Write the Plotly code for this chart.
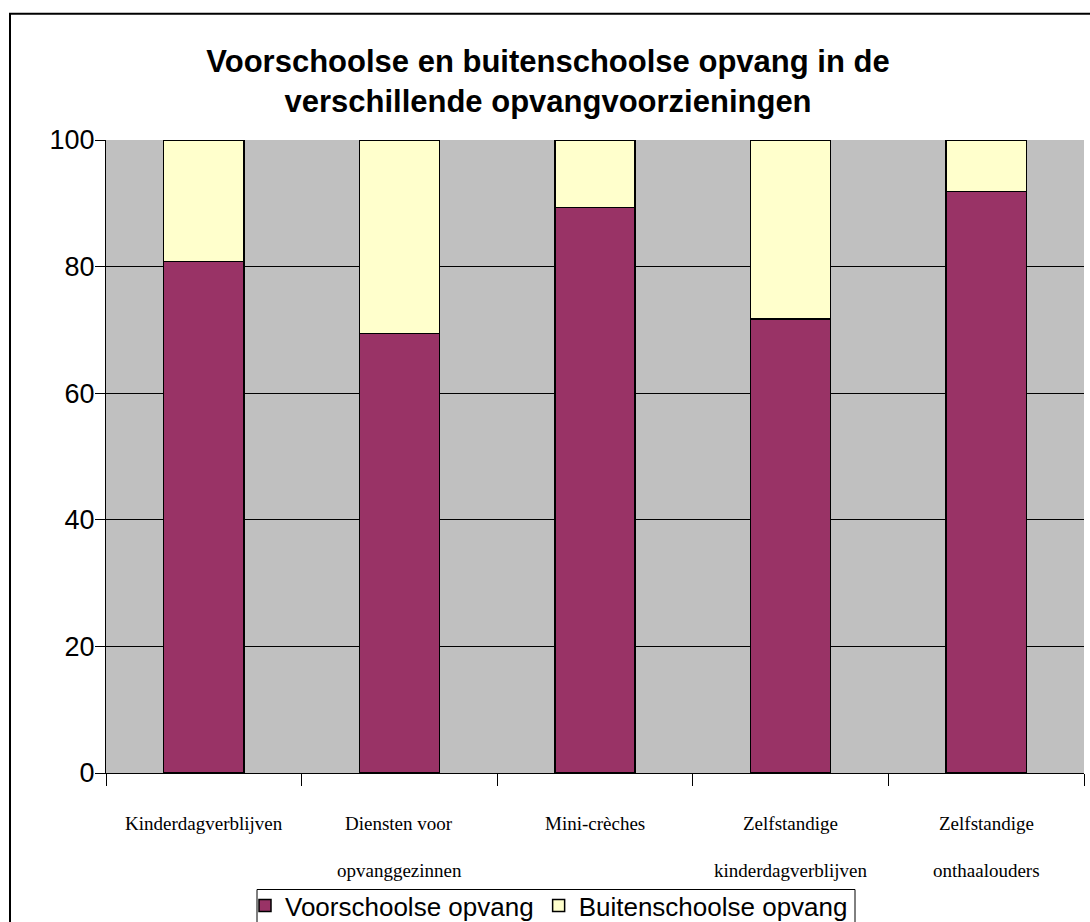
import plotly.graph_objects as go

categories = ["Kinderdagverblijven", "Diensten voor opvanggezinnen", "Mini-crèches",
              "Zelfstandige kinderdagverblijven", "Zelfstandige onthaalouders"]
label_line1 = ["Kinderdagverblijven", "Diensten voor", "Mini-crèches", "Zelfstandige", "Zelfstandige"]
label_line2 = ["", "opvanggezinnen", "", "kinderdagverblijven", "onthaalouders"]
voorschoolse = [80.8, 69.4, 89.3, 71.7, 91.9]
buitenschoolse = [100 - v for v in voorschoolse]
series_names = ["Voorschoolse opvang", "Buitenschoolse opvang"]
y_ticks = [0, 20, 40, 60, 80, 100]

W, H = 1090, 922
L, R, T, B = 106, 1084, 140, 773

fig = go.Figure()
fig.add_trace(go.Bar(x=categories, y=voorschoolse, name=series_names[0],
                     marker=dict(color="#993366", line=dict(color="black", width=1.5)),
                     width=0.41))
fig.add_trace(go.Bar(x=categories, y=buitenschoolse, name=series_names[1],
                     marker=dict(color="#FFFFCC", line=dict(color="black", width=1.5)),
                     width=0.41))

def px_x(p):
    return (p - L) / (R - L)

def px_y(p):
    return (B - p) / (B - T)

serif = "Liberation Serif, Times New Roman"
annotations = []
for c, l1, l2 in zip(categories, label_line1, label_line2):
    annotations.append(dict(x=c, xref="x", y=px_y(823), yref="paper", text=l1,
                            showarrow=False, yanchor="middle",
                            font=dict(family=serif, size=19, color="black")))
    if l2:
        annotations.append(dict(x=c, xref="x", y=px_y(870), yref="paper", text=l2,
                                showarrow=False, yanchor="middle",
                                font=dict(family=serif, size=19, color="black")))

fig.update_layout(
    width=W, height=H,
    barmode="stack",
    paper_bgcolor="white",
    plot_bgcolor="#C0C0C0",
    margin=dict(l=L, r=W - R, t=T, b=H - B, pad=0, autoexpand=False),
    title=dict(text="Voorschoolse en buitenschoolse opvang in de<br>verschillende opvangvoorzieningen",
               x=548 / W, xanchor="center", xref="container",
               y=1 - 72 / H, yanchor="top", yref="container",
               font=dict(family="Liberation Sans, Arial", size=31, color="black", weight="bold")),
    showlegend=True,
    legend=dict(orientation="h", x=px_x(245), xanchor="left", y=px_y(882), yanchor="top",
                bgcolor="rgba(0,0,0,0)", borderwidth=0,
                font=dict(family="Liberation Sans, Arial", size=26, color="black"),
                itemclick=False, tracegroupgap=0, traceorder="normal"),
    annotations=annotations,
    shapes=[
        dict(type="rect", xref="paper", yref="paper",
             x0=px_x(10), x1=px_x(1110), y0=px_y(960), y1=px_y(13.7),
             line=dict(color="black", width=2), fillcolor="rgba(0,0,0,0)", layer="above"),
        dict(type="rect", xref="paper", yref="paper",
             x0=px_x(257), x1=px_x(855), y0=px_y(940), y1=px_y(889.5),
             line=dict(color="black", width=1), fillcolor="white", layer="above"),
    ],
)

fig.update_xaxes(type="category", tickson="boundaries", ticks="outside", ticklen=12,
                 tickcolor="black", showline=True, linecolor="black", linewidth=1,
                 showticklabels=False, showgrid=False, automargin=False)
fig.update_yaxes(range=[0, 100], tickvals=y_ticks, ticks="outside", ticklen=10,
                 tickcolor="black", showline=True, linecolor="black", linewidth=1,
                 showgrid=True, gridcolor="black", gridwidth=1, zeroline=False,
                 automargin=False, ticklabelstandoff=-5,
                 tickfont=dict(family="Liberation Sans, Arial", size=27, color="black"))

fig.write_html("out.html", config={"displayModeBar": False},
               post_script="document.body.style.margin='0';document.body.style.padding='0';")
